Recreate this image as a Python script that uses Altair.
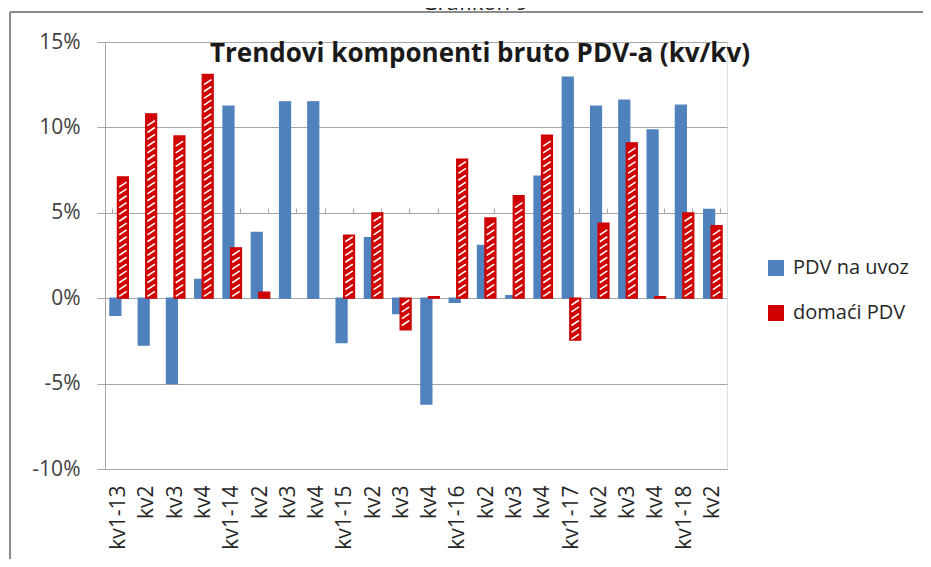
import altair as alt
import pandas as pd

labels = ["kv1-13", "kv2", "kv3", "kv4", "kv1-14", "kv2", "kv3", "kv4",
          "kv1-15", "kv2", "kv3", "kv4", "kv1-16", "kv2", "kv3", "kv4",
          "kv1-17", "kv2", "kv3", "kv4", "kv1-18", "kv2"]
years = ["13"] * 4 + ["14"] * 4 + ["15"] * 4 + ["16"] * 4 + ["17"] * 4 + ["18"] * 2
uvoz = [-1.0, -2.75, -5.0, 1.1, 11.25, 3.85, 11.5, 11.5,
        -2.6, 3.55, -0.9, -6.2, -0.25, 3.1, 0.15, 7.15,
        12.95, 11.25, 11.6, 9.85, 11.3, 5.2]
domaci = [7.1, 10.8, 9.5, 13.1, 2.95, 0.35, 0.0, 0.0,
          3.7, 5.0, -1.85, 0.1, 8.15, 4.7, 6.0, 9.55,
          -2.45, 4.4, 9.1, 0.1, 5.0, 4.25]
series = ["PDV na uvoz", "domaći PDV"]
colors = ["#4f81bd", "#d00000"]

keys = [f"{l.split('-')[0]}-{y}" for l, y in zip(labels, years)]
rows = []
for k, l, a, b in zip(keys, labels, uvoz, domaci):
    rows.append({"key": k, "label": l, "series": series[0], "value": a})
    rows.append({"key": k, "label": l, "series": series[1], "value": b})
df = pd.DataFrame(rows)

label_expr = "indexof(datum.value, 'kv1') == 0 ? datum.value : split(datum.value, '-')[0]"

xscale = alt.Scale(domain=keys, paddingInner=0.47, paddingOuter=0.235)
oscale = alt.Scale(domain=series, paddingInner=0, paddingOuter=0)
yscale = alt.Scale(domain=[-10, 15], nice=False)

base = alt.Chart(df)

bars = base.mark_bar(width=11, strokeWidth=1.2).encode(
    x=alt.X("key:N", scale=xscale, sort=keys, title=None,
            axis=alt.Axis(labelExpr=label_expr, labelAngle=-90, labelFontSize=21,
                          labelFont="Open Sans", labelColor="#262626", labelPadding=16,
                          domain=False, ticks=False, grid=False)),
    xOffset=alt.XOffset("series:N", scale=oscale, sort=series),
    y=alt.Y("value:Q", scale=yscale, title=None,
            axis=alt.Axis(values=[-10, -5, 0, 5, 10, 15], labelExpr="datum.value + '%'",
                          labelFontSize=21, labelFont="Open Sans", labelColor="#404040",
                          labelPadding=17, tickSize=8, tickColor="#a6a6a6",
                          domainColor="#a6a6a6", gridColor="#a6a6a6", gridWidth=1.2)),
    color=alt.Color("series:N", sort=series,
                    scale=alt.Scale(domain=series, range=colors),
                    legend=alt.Legend(title=None, orient="none", legendX=661, legendY=216,
                                      symbolType="square", symbolSize=256,
                                      symbolStrokeWidth=0, labelFontSize=20,
                                      labelFont="Open Sans", labelColor="#262626",
                                      rowPadding=25, labelOffset=7)),
    stroke=alt.Stroke("series:N", sort=series,
                      scale=alt.Scale(domain=series, range=["#4f81bd", "#cc0000"]),
                      legend=None),
    strokeOpacity=alt.condition(alt.datum.value == 0, alt.value(0), alt.value(1)),
    order=alt.Order("series:N", sort="ascending"),
)

hatch = base.transform_filter(
    alt.datum.series == "domaći PDV"
).transform_calculate(
    t="sequence(0.25, abs(datum.value) - 0.15, 0.4)"
).transform_flatten(["t"]).transform_calculate(
    yy="datum.value < 0 ? -datum.t : datum.t"
).mark_point(shape="M -0.75 0.5 L 0.75 -0.5", size=100, stroke="white",
             strokeWidth=1.6, filled=False, opacity=1).encode(
    x=alt.X("key:N", scale=xscale, sort=keys, title=None,
            axis=alt.Axis(labels=False, domain=True, domainColor="#a6a6a6",
                          ticks=True, tickBand="extent", tickSize=5,
                          tickColor="#a6a6a6", offset=-171, grid=False)),
    xOffset=alt.XOffset("series:N", scale=oscale, sort=series),
    y=alt.Y("yy:Q", scale=yscale),
)

title_df = pd.DataFrame({"t": ["Trendovi komponenti bruto PDV-a (kv/kv)"]})
title_txt = alt.Chart(title_df).mark_text(
    fontSize=26, fontWeight="bold", font="Open Sans", color="#1a1a1a",
    align="center", baseline="alphabetic").encode(
    text="t:N", x=alt.value(375), y=alt.value(20))

top_df = pd.DataFrame({"t": ["Grafikon 9"]})
top_txt = alt.Chart(top_df).mark_text(
    fontSize=22, font="Open Sans", color="#1a1a1a", align="center",
    baseline="alphabetic").encode(text="t:N", x=alt.value(370), y=alt.value(-32))

frame_left = alt.Chart(top_df).mark_rule(color="#8c8c8c", strokeWidth=2).encode(
    x=alt.value(-95), y=alt.value(-30), y2=alt.value(600))
frame_top = alt.Chart(top_df).mark_rule(color="#8c8c8c", strokeWidth=2).encode(
    x=alt.value(-95), x2=alt.value(900), y=alt.value(-30))

chart = alt.layer(frame_left, frame_top, top_txt, bars, hatch, title_txt).resolve_axis(
    x="independent"
).properties(
    width=622, height=427, autosize="none",
    padding={"left": 97, "top": 34, "right": 196, "bottom": 90},
).configure_view(stroke=None).configure(background="white")

chart.save("out.html", embed_options={"renderer": "svg", "actions": False})
